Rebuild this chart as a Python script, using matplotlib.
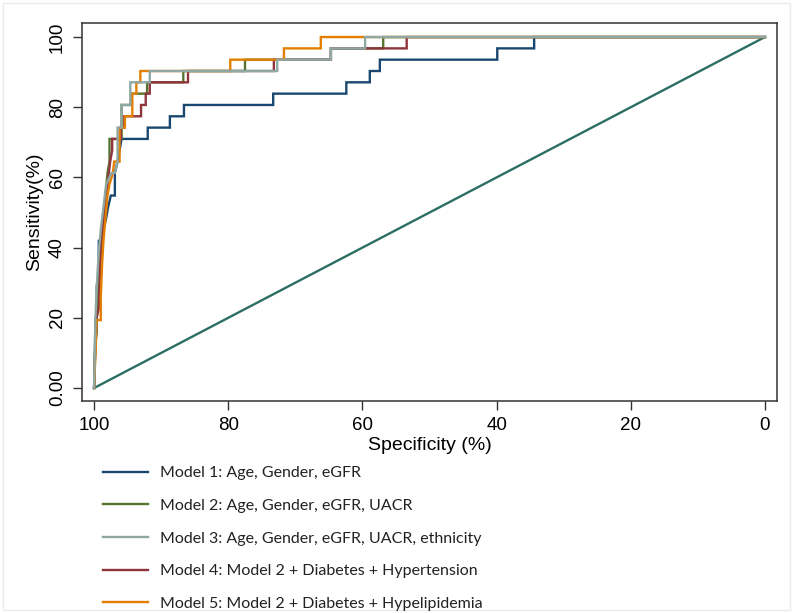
import matplotlib
matplotlib.use("Agg")
import matplotlib.pyplot as plt
from matplotlib.patches import Rectangle

# ROC vertices: specificity (%) and sensitivity (%)
m1_spec = [100, 99.8, 99.6, 99.6, 99.3, 99.3, 98.9, 98.6, 98.2, 97.9, 97.5, 96.9, 96.9, 96.5, 96.2, 95.9,
           92.0, 92.0, 88.7, 88.7, 86.6, 86.6, 73.3, 73.3, 62.4, 62.4, 58.9, 58.9, 57.4, 57.4,
           39.9, 39.9, 34.4, 34.4, 0]
m1_sens = [0, 12.90, 16.13, 29.03, 32.26, 41.94, 41.94, 45.16, 48.39, 51.61, 54.84, 54.84, 61.29, 64.52, 67.74, 70.97,
           70.97, 74.19, 74.19, 77.42, 77.42, 80.65, 80.65, 83.87, 83.87, 87.10, 87.10, 90.32, 90.32, 93.55,
           93.55, 96.77, 96.77, 100, 100]

m2_spec = [100, 99.8, 99.5, 99.4, 99.1, 98.9, 98.6, 98.3, 98.0, 97.7, 97.7, 95.9, 95.9, 94.4, 94.4,
           92.1, 92.1, 86.7, 86.7, 77.5, 77.5, 64.7, 64.7, 56.9, 56.9, 0]
m2_sens = [0, 19.35, 22.58, 29.03, 35.48, 41.94, 48.39, 54.84, 61.29, 64.52, 70.97, 70.97, 80.65, 80.65, 83.87,
           83.87, 87.10, 87.10, 90.32, 90.32, 93.55, 93.55, 96.77, 96.77, 100, 100]

m3_spec = [100, 99.9, 99.8, 99.6, 99.3, 99.0, 98.6, 98.2, 97.4, 96.9, 96.5, 96.5, 95.9, 95.9, 94.6, 94.6,
           91.7, 91.7, 72.7, 72.7, 64.7, 64.7, 59.6, 59.6, 0]
m3_sens = [0, 9.68, 19.35, 29.03, 38.71, 45.16, 51.61, 58.06, 61.29, 61.29, 64.52, 74.19, 74.19, 80.65, 80.65, 87.10,
           87.10, 90.32, 90.32, 93.55, 93.55, 96.77, 96.77, 100, 100]

m4_spec = [100, 99.7, 99.3, 99.2, 99.0, 98.7, 98.4, 98.0, 97.6, 97.3, 97.3, 96.0, 96.0, 95.5, 95.5, 93.0, 93.0,
           92.3, 92.3, 91.7, 91.7, 86.0, 86.0, 73.2, 73.2, 64.7, 64.7, 53.4, 53.4, 0]
m4_sens = [0, 19.35, 22.58, 29.03, 38.71, 45.16, 51.61, 58.06, 64.52, 67.74, 70.97, 70.97, 74.19, 74.19, 77.42, 77.42, 80.65,
           80.65, 83.87, 83.87, 87.10, 87.10, 90.32, 90.32, 93.55, 93.55, 96.77, 96.77, 100, 100]

m5_spec = [100, 99.6, 99.0, 99.0, 98.8, 98.6, 98.3, 98.0, 97.7, 97.2, 97.0, 96.2, 96.2, 95.4, 95.4, 94.3, 94.3,
           93.7, 93.7, 93.1, 93.1, 79.7, 79.7, 71.7, 71.7, 66.2, 66.2, 0]
m5_sens = [0, 19.35, 19.35, 25.81, 35.48, 41.94, 48.39, 54.84, 58.06, 61.29, 64.52, 64.52, 74.19, 74.19, 77.42, 77.42, 83.87,
           83.87, 87.10, 87.10, 90.32, 90.32, 93.55, 93.55, 96.77, 96.77, 100, 100]

ref_spec = [100, 0]
ref_sens = [0, 100]

labels = ["Model 1: Age, Gender, eGFR",
          "Model 2: Age, Gender, eGFR, UACR",
          "Model 3: Age, Gender, eGFR, UACR, ethnicity",
          "Model 4: Model 2 + Diabetes + Hypertension",
          "Model 5: Model 2 + Diabetes + Hypelipidemia"]
colors = ["#1a476f", "#55752f", "#8fa8a3", "#90353b", "#e37e00"]

xticks = [100, 80, 60, 40, 20, 0]
yticks = [0, 20, 40, 60, 80, 100]
ytick_labels = ["0.00", "20", "40", "60", "80", "100"]

fig = plt.figure(figsize=(8.0, 6.13), dpi=100)
fig.patch.set_facecolor("white")
ax = fig.add_axes([82/800, 1-401/613, (777-82)/800, (401-23)/613])

series = [(m1_spec, m1_sens), (m2_spec, m2_sens), (m4_spec, m4_sens), (m5_spec, m5_sens), (m3_spec, m3_sens)]
order = [0, 1, 3, 4, 2]
handles = {}
for (xs, ys), idx in zip(series, order):
    ln, = ax.plot(xs, ys, color=colors[idx], lw=1.7, solid_joinstyle="miter", zorder=3)
    handles[idx] = ln
ax.plot(ref_spec, ref_sens, color="#2c6e63", lw=1.7, zorder=2)

ax.set_xlim(101.8, -1.8)
ax.set_ylim(-3.7, 104)
ax.set_xticks(xticks)
ax.set_xticklabels([str(t) for t in xticks], fontsize=13.5, family="Liberation Sans")
ax.set_yticks(yticks)
ax.set_yticklabels(ytick_labels, fontsize=13.5, family="Liberation Sans", rotation=90, va="center")
ax.tick_params(direction="out", length=6.5, width=1.0, color="#333333", pad=5)
for s in ax.spines.values():
    s.set_color("#333333")
    s.set_linewidth(1.1)
ax.set_xlabel("Specificity (%)", fontsize=14, family="Liberation Sans", labelpad=2)
ax.set_ylabel("Sensitivity(%)", fontsize=14, family="Liberation Sans", labelpad=4)

leg = fig.legend([handles[i] for i in range(5)], labels, loc="upper left",
                 bbox_to_anchor=(103/800, 1-466/613), frameon=False,
                 prop={"family": "Lato", "size": 11.5}, handlelength=2.8,
                 handletextpad=0.8, labelspacing=1.16, borderpad=0, borderaxespad=0)
for t in leg.get_texts():
    t.set_color("#222222")

fig.add_artist(Rectangle((3/800, 3/613), 787/800, 607/613, transform=fig.transFigure,
                         fill=False, edgecolor="#e8ecee", lw=1.0))

fig.savefig("out.png", dpi=100, facecolor="white")
